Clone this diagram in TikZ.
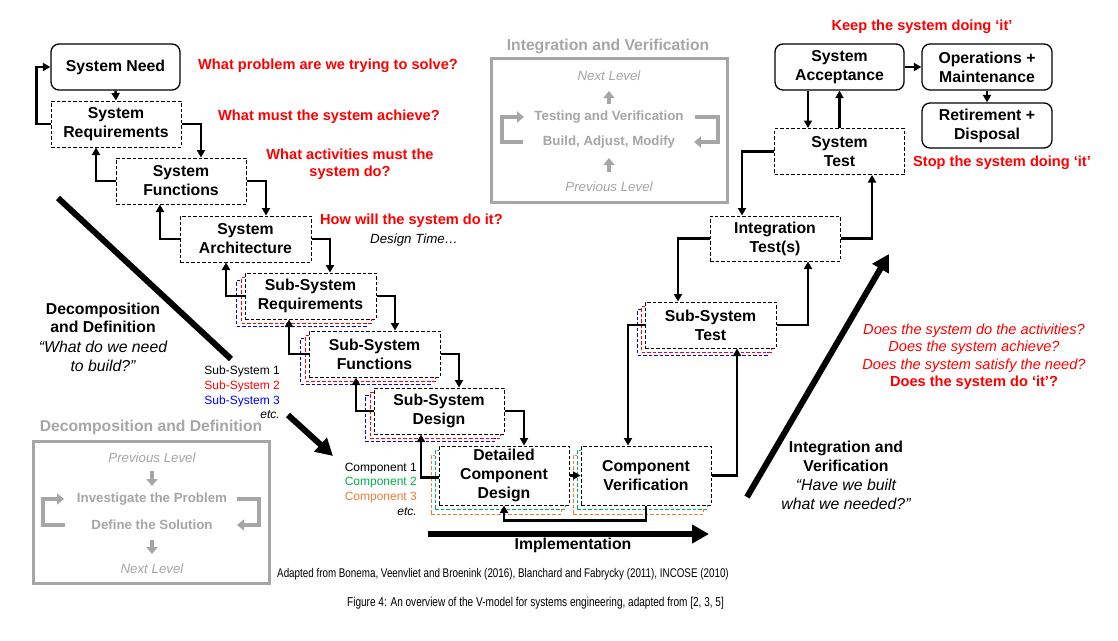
\documentclass[tikz,border=0pt]{standalone}
\usepackage{fontspec}
\setmainfont{Liberation Sans}
\newfontfamily\narrowfont[FakeStretch=0.78]{Liberation Sans}
\usetikzlibrary{arrows.meta,calc}
\definecolor{vred}{RGB}{255,0,0}
\definecolor{vblue}{RGB}{0,0,255}
\definecolor{vgreen}{RGB}{0,176,80}
\definecolor{vorange}{RGB}{237,125,49}
\definecolor{vgray}{RGB}{166,166,166}
\newcommand{\vfs}[2]{\fontsize{#1}{#2}\selectfont}
\tikzset{
  dbox/.style={draw, line width=1pt, dash pattern=on 3.5pt off 2pt, fill=white, align=center, inner sep=0pt,
    font=\bfseries\vfs{15.8}{19}, minimum width=130pt, minimum height=46pt},
  rbox/.style={draw, line width=1.3pt, rounded corners=8pt, fill=white, align=center, inner sep=0pt,
    font=\bfseries\vfs{15.8}{19}, minimum width=129pt, minimum height=46pt},
  conn/.style={line width=2.4pt, -{Triangle[length=7.5pt,width=8pt]}},
  bigarrow/.style={line width=6pt, -{Triangle[length=17pt,width=18pt]}},
  garrow/.style={draw=vgray, line width=3.8pt, -{Triangle[length=7pt,width=11pt]}},
  redq/.style={text=vred, font=\bfseries\vfs{14.6}{17}, inner sep=0pt, align=center},
  lbl/.style={inner sep=0pt, align=center},
  gtitle/.style={text=vgray, font=\bfseries\vfs{15.7}{19}, inner sep=0pt},
  gbold/.style={text=vgray, font=\bfseries\vfs{13.3}{16}, inner sep=0pt},
  gital/.style={text=vgray, font=\itshape\vfs{13.3}{16}, inner sep=0pt},
  gframe/.style={draw=vgray, line width=3pt},
}
\begin{document}
\begin{tikzpicture}[x=1pt,y=-1pt]
\useasboundingbox (0,0) rectangle (1118,640);
\fill[white] (0,0) rectangle (1118,640);

% ---------- gray legend boxes ----------
\node[gtitle] (ivtitle) at (608,46) {Integration and Verification};
\draw[gframe] (491,58) rectangle (727,202);
\node[gital] (ivnext) at (609,76) {Next Level};
\node[gbold] (ivtest) at (609,117) {Testing and Verification};
\node[gbold] (ivbuild) at (609,142) {Build, Adjust, Modify};
\node[gital] (ivprev) at (609,187) {Previous Level};
\draw[garrow] (609,104) -- (609,91);
\draw[garrow] (609,172) -- (609,158);
\draw[garrow] (523,142) -- (502,142) -- (502,117) -- (524,117);
\draw[garrow] (695,117) -- (718,117) -- (718,142) -- (694,142);

\node[gtitle] (ddtitle) at (151,427) {Decomposition and Definition};
\draw[gframe] (33,441) rectangle (269,583);
\node[gital] (ddprev) at (152,458) {Previous Level};
\node[gbold] (ddinv) at (152,499) {Investigate the Problem};
\node[gbold] (dddef) at (152,525) {Define the Solution};
\node[gital] (ddnext) at (152,569) {Next Level};
\draw[garrow] (152,471) -- (152,486);
\draw[garrow] (152,540) -- (152,554);
\draw[garrow] (65,525) -- (43,525) -- (43,499) -- (64,499);
\draw[garrow] (237,499) -- (259,499) -- (259,525) -- (237,525);

% ---------- shadows ----------
\node[dbox, draw=vblue] (ssreqB) at (301.5,303) {};
\node[dbox, draw=vred] (ssreqR) at (306.5,300) {};
\node[dbox, draw=vblue] (ssfunB) at (365.5,361) {};
\node[dbox, draw=vred] (ssfunR) at (370.5,358) {};
\node[dbox, draw=vblue] (ssdesB) at (430,418) {};
\node[dbox, draw=vred] (ssdesR) at (435,415) {};
\node[dbox, draw=vblue] (sstB) at (702.5,332) {};
\node[dbox, draw=vred] (sstR) at (706.5,329) {};
\node[dbox, draw=vorange, minimum height=59pt] (dcdO) at (496,484.5) {};
\node[dbox, draw=vgreen, minimum height=59pt] (dcdG) at (500,479.5) {};
\node[dbox, draw=vorange, minimum height=59pt] (cvO) at (638,484.5) {};
\node[dbox, draw=vgreen, minimum height=59pt] (cvG) at (642,479.5) {};

% ---------- main boxes ----------
\node[rbox] (need) at (115.5,67) {System Need};
\node[dbox] (sreq) at (116,124) {System\\Requirements};
\node[dbox] (sfun) at (181,181) {System\\Functions};
\node[dbox, minimum width=131pt] (sarch) at (245.5,239) {System\\Architecture};
\node[dbox, minimum width=131pt] (ssreq) at (310.5,296) {Sub-System\\Requirements};
\node[dbox, minimum width=131pt] (ssfun) at (374.5,354) {Sub-System\\Functions};
\node[dbox] (ssdes) at (439,411) {Sub-System\\Design};
\node[dbox, minimum height=59pt] (dcd) at (504,475.5) {Detailed\\Component\\Design};
\node[dbox, minimum height=59pt] (cv) at (646,475.5) {Component\\Verification};
\node[dbox, minimum width=131pt] (sst) at (710.5,325) {Sub-System\\Test};
\node[dbox, minimum height=45pt] (it) at (775,238.5) {Integration\\Test(s)};
\node[dbox] (st) at (839.5,151.5) {System\\Test};
\node[rbox] (sa) at (839.5,67) {System\\Acceptance};
\node[rbox, minimum width=130pt] (om) at (987,67) {Operations +\\Maintenance};
\node[rbox, minimum width=130pt, minimum height=45pt] (rd) at (987,125.5) {Retirement +\\Disposal};

% ---------- connectors ----------
\draw[conn] (need.south) -- (sreq.north);
\draw[conn] (sreq.west) -- ++(-14,0) |- (need.west);
\draw[conn] (sreq.east) -| ([xshift=20pt]sfun.north);
\draw[conn] (sfun.west) -| ([xshift=-20pt]sreq.south);
\draw[conn] (sfun.east) -| ([xshift=20.5pt]sarch.north);
\draw[conn] (sarch.west) -| ([xshift=-21pt]sfun.south);
\draw[conn] (sarch.east) -| ([xshift=19.5pt]ssreq.north);
\draw[conn] (ssreq.west) -| ([xshift=-19.5pt]sarch.south);
\draw[conn] (ssreq.east) -| ([xshift=20.5pt]ssfun.north);
\draw[conn] (ssfun.west) -| ([xshift=-21.5pt]ssreq.south);
\draw[conn] (ssfun.east) -| ([xshift=20pt]ssdes.north);
\draw[conn] (ssdes.west) -| ([xshift=-18.5pt]ssfun.south);
\draw[conn] (ssdes.east) -| ([xshift=20pt]dcd.north);
\draw[conn] ([yshift=-2pt]dcd.west) -| ([xshift=-18pt]ssdes.south);
\draw[conn] (dcd.east) -- (cv.west);
\draw[conn] (cv.south) -- ++(0,15) -| (dcd.south);
\draw[conn] (cv.east) -| ([xshift=26.5pt]sst.south);
\draw[conn] (sst.west) -| ([xshift=-18pt]cv.north);
\draw[conn] (sst.east) -| ([xshift=33pt]it.south);
\draw[conn] (it.west) -| ([xshift=-32.5pt]sst.north);
\draw[conn] (it.east) -| ([xshift=32.5pt]st.south);
\draw[conn] (st.west) -| ([xshift=-33pt]it.north);
\draw[conn] ([xshift=-31.5pt]sa.south) -- ([xshift=-31.5pt]st.north);
\draw[conn] (st.north) -- (sa.south);
\draw[conn] (sa.east) -- (om.west);
\draw[conn] (om.south) -- (rd.north);

% ---------- big arrows ----------
\coordinate (dA) at (58,198);
\coordinate (dB) at (231,359);
\coordinate (dC) at (288,415);
\coordinate (dD) at (333,456);
\draw[line width=6pt] (dA) -- (dB);
\draw[bigarrow] (dC) -- (dD);
\coordinate (uA) at (747,497);
\coordinate (uB) at (889,254);
\draw[bigarrow] (uA) -- (uB);
\coordinate (iA) at (428,534);
\coordinate (iB) at (709,534);
\draw[bigarrow] (iA) -- (iB);

% ---------- texts ----------
\node[redq, anchor=west] (q1) at (198,66) {What problem are we trying to solve?};
\node[redq, anchor=west] (q2) at (218,117) {What must the system achieve?};
\node[redq] (q3) at (350,164.5) {What activities must the\\system do?};
\node[redq, anchor=west] (q4) at (320,221) {How will the system do it?};
\node[lbl, anchor=west, font=\itshape\vfs{13.3}{16}] (dtime) at (370,240) {Design Time…};
\node[redq] (keep) at (922,27) {Keep the system doing ‘it’};
\node[redq, anchor=west] (stop) at (913,163) {Stop the system doing ‘it’};

\node[lbl, font=\bfseries\vfs{15.8}{18.5}] (decomp) at (103,318) {Decomposition\\and Definition};
\node[lbl, font=\itshape\vfs{15.8}{19}] (decq) at (103,356.5) {“What do we need\\to build?”};

\node[lbl, anchor=east, align=right, font=\vfs{12}{14.8}] (sslab) at (280,392.5)
  {Sub-System 1\\\textcolor{vred}{Sub-System 2}\\\textcolor{vblue}{Sub-System 3}\\\textit{etc.}};
\node[lbl, anchor=east, align=right, font=\vfs{12}{14.7}] (complab) at (417,489)
  {Component 1\\\textcolor{vgreen}{Component 2}\\\textcolor{vorange}{Component 3}\\\textit{etc.}};

\node[lbl, font=\bfseries\vfs{15.8}{19}] (impl) at (573,545) {Implementation};

\node[lbl, text=vred, font=\itshape\vfs{14.6}{17.7}] (dq) at (974,348)
  {Does the system do the activities?\\Does the system achieve?\\Does the system satisfy the need?};
\node[redq, anchor=center] (dqit) at (974,383) {Does the system do ‘it’?};

\node[lbl, font=\bfseries\vfs{15.8}{19}] (intv) at (846,456.5) {Integration and\\Verification};
\node[lbl, font=\itshape\vfs{15.8}{19}] (intq) at (846,494.5) {“Have we built\\what we needed?”};

\node[lbl, anchor=west, font=\narrowfont\vfs{12.6}{14}] (adapted) at (277,574)
  {Adapted from Bonema, Veenvliet and Broenink (2016), Blanchard and Fabrycky (2011), INCOSE (2010)};
\node[lbl, font=\narrowfont\vfs{12.9}{15}] (caption) at (535.5,603)
  {Figure 4: An overview of the V-model for systems engineering, adapted from [2, 3, 5]};
\end{tikzpicture}
\end{document}
